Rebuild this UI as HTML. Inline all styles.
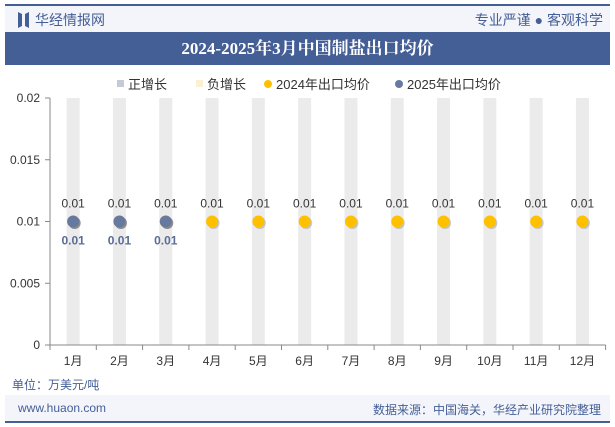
<!DOCTYPE html>
<html><head><meta charset="utf-8"><style>
body{margin:0;width:615px;height:427px;background:#fff;font-family:"Liberation Sans","Noto Sans CJK SC",sans-serif;overflow:hidden;position:relative}
.a{position:absolute}
</style></head><body>
<div class="a" style="left:5px;top:4px;width:605px;height:2px;background:#445e96"></div>
<div class="a" style="left:5px;top:6px;width:605px;height:26px;background:#f3f5fa"></div>
<svg class="a" style="left:18px;top:12px" width="11" height="16"><polygon points="0,0 4,2 4,14 0,16" fill="#445e96"/><polygon points="11,0 7,2 7,14 11,16" fill="#445e96"/></svg>
<div class="a" style="left:35px;top:10px;font-size:14px;color:#445e96">华经情报网</div>
<div class="a" style="right:12px;top:10px;font-size:14px;color:#445e96">专业严谨 ● 客观科学</div>
<div class="a" style="left:5px;top:32px;width:605px;height:33px;background:#445e96;color:#fff;font-size:17px;font-weight:bold;text-align:center;line-height:33px;font-family:'Liberation Serif','Noto Serif CJK SC',serif">2024-2025年3月中国制盐出口均价</div>
<svg class="a" style="left:0;top:0" width="615" height="427" id="c"></svg>
<div class="a" style="left:12px;top:376px;font-size:12px;color:#445e96">单位：万美元/吨</div>
<div class="a" style="left:5px;top:395px;width:605px;height:26px;background:#f3f5fa"></div>
<div class="a" style="left:18px;top:401px;font-size:12px;color:#445e96">www.huaon.com</div>
<div class="a" style="right:14px;top:401px;font-size:12px;color:#445e96">数据来源：中国海关，华经产业研究院整理</div>
<div class="a" style="left:5px;top:421px;width:605px;height:2px;background:#445e96"></div>
<script>
const categories=["1月","2月","3月","4月","5月","6月","7月","8月","9月","10月","11月","12月"];
const values2024=[0.01,0.01,0.01,0.01,0.01,0.01,0.01,0.01,0.01,0.01,0.01,0.01];
const values2025=[0.01,0.01,0.01,null,null,null,null,null,null,null,null,null];
const yTicks=[0,0.005,0.01,0.015,0.02];
const yTickLabels=["0","0.005","0.01","0.015","0.02"];
const svg=document.getElementById('c');const NS='http://www.w3.org/2000/svg';
const x0=50,x1=605.6,yT=98,yB=345,ymax=0.02;
const step=(x1-x0)/categories.length;
const X=i=>x0+step*(i+0.5), Y=v=>yB-(v/ymax)*(yB-yT);
function mk(t,a,txt){const e=document.createElementNS(NS,t);for(const k in a)e.setAttribute(k,a[k]);if(txt!=null)e.textContent=txt;svg.appendChild(e);return e;}
categories.forEach((c,i)=>{
 const b=mk('rect',{x:X(i)-6.5,y:yT,width:13,height:yB-yT,fill:'#ebebeb'});
 
 
 const t=mk('text',{x:X(i),y:yB+20,'text-anchor':'middle','font-size':12,fill:'#333'},c);
 
 
});
for(let i=0;i<=categories.length;i++){mk('line',{x1:x0+step*i,x2:x0+step*i,y1:yB,y2:yB+5,stroke:'#888'});}
mk('line',{x1:x0,x2:x1,y1:yB,y2:yB,stroke:'#888'});
mk('line',{x1:x0,x2:x0,y1:yT,y2:yB,stroke:'#888'});
yTicks.forEach((v,i)=>{mk('line',{x1:x0-5,x2:x0,y1:Y(v),y2:Y(v),stroke:'#888'});
 const t=mk('text',{x:x0-10,y:Y(v)+4,'text-anchor':'end','font-size':12,fill:'#333'},yTickLabels[i]);
 
 });
values2024.forEach((v,i)=>{if(v==null)return;
 mk('circle',{cx:X(i)+1.5,cy:Y(v)+1.5,r:6,fill:'#999',opacity:0.5});
 const p=mk('circle',{cx:X(i),cy:Y(v),r:6,fill:'#ffc000'});
 
 
 mk('text',{x:X(i),y:Y(v)-14,'text-anchor':'middle','font-size':12,fill:'#333'},v);});
values2025.forEach((v,i)=>{if(v==null)return;
 mk('circle',{cx:X(i)+1.5,cy:Y(v)+1.5,r:6,fill:'#555',opacity:0.5});
 const p=mk('circle',{cx:X(i),cy:Y(v),r:6,fill:'#667aa0'});
 
 
 mk('text',{x:X(i),y:Y(v)+23,'text-anchor':'middle','font-size':12,'font-weight':'bold',fill:'#5a6d96'},v);});
const leg=[["正增长","rect","#c4cad6",115],["负增长","rect","#fbf1d2",194],["2024年出口均价","circle","#ffc000",263],["2025年出口均价","circle","#667aa0",394]];
leg.forEach(l=>{
 if(l[1]=='rect')mk('rect',{x:l[3]+2,y:80,width:7,height:7,fill:l[2]});else mk('circle',{cx:l[3]+5,cy:84,r:4,fill:l[2]});
 const t=mk('text',{x:l[3]+13,y:89,'font-size':13,fill:'#333'},l[0]);
 
 });
</script>
</body></html>
